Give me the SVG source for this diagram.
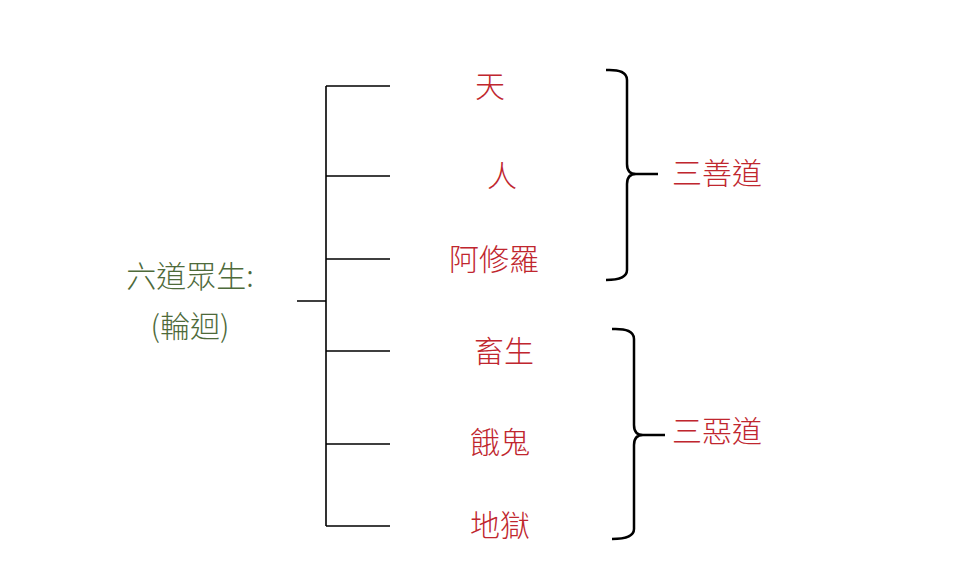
<svg xmlns="http://www.w3.org/2000/svg" width="965" height="572" viewBox="0 0 965 572">
<style>
.r{fill:#c0262e;font-family:"Noto Sans CJK TC","Noto Sans CJK SC",sans-serif;font-size:30px;font-weight:300;text-anchor:middle}
.g{fill:#4e6a3a;font-family:"Noto Sans CJK TC","Noto Sans CJK SC",sans-serif;font-size:30px;font-weight:300;text-anchor:middle}
.l{stroke:#000;stroke-width:1.6;fill:none}
.b{stroke:#000;stroke-width:2.5;fill:none}
</style>
<rect width="965" height="572" fill="#fff"/>
<g id="connectors">
<path class="l" d="M326 86V526M297 301H326M326 86H390M326 176H390M326 259H390M326 351H390M326 444H390M326 526H390"/>
<path class="b" d="M606 70Q627 69 627 80V164Q627 174 636 174Q627 174 627 184V270Q627 280 606 280M636 174H658"/>
<path class="b" d="M612 329Q634 328 634 339V425Q634 435 643 435Q634 435 634 445V529Q634 539 612 539M643 435H665"/>
</g>
<g id="root"><text class="g" x="190" y="287">六道眾生:</text><text class="g" x="190" y="337">(輪迴)</text></g>
<g id="n1"><text class="r" x="490" y="97">天</text></g>
<g id="n2"><text class="r" x="502" y="187">人</text></g>
<g id="n3"><text class="r" x="494" y="270">阿修羅</text></g>
<g id="n4"><text class="r" x="504" y="362">畜生</text></g>
<g id="n5"><text class="r" x="500" y="453">餓鬼</text></g>
<g id="n6"><text class="r" x="500" y="536">地獄</text></g>
<g id="g1"><text class="r" x="717" y="184">三善道</text></g>
<g id="g2"><text class="r" x="717" y="442">三惡道</text></g>
</svg>
